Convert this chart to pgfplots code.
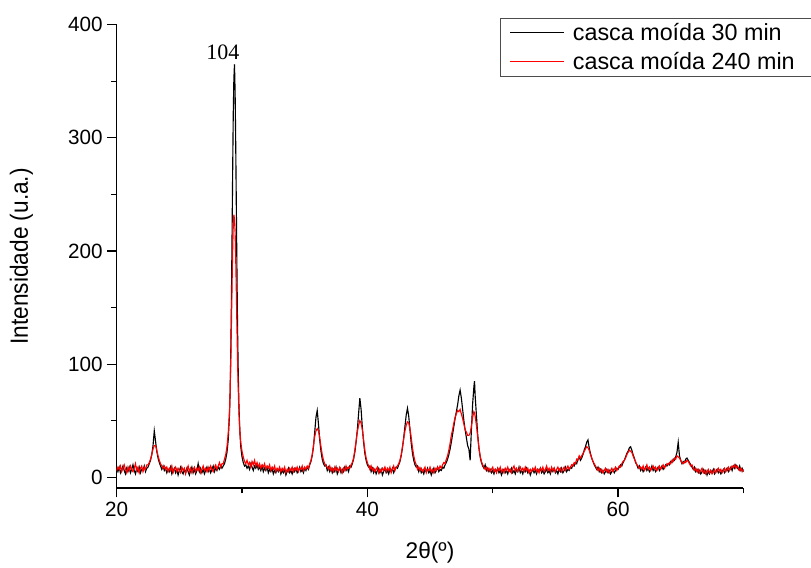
\documentclass[border=0pt]{standalone}
\usepackage{pgfplots}
\usepackage{pgfplotstable}
\usepackage{graphicx}
\pgfplotsset{compat=1.18}
\usepackage{fontspec}
\setmainfont{Liberation Sans}
\newfontfamily\timesfont{Liberation Serif}

% columns: 2theta, 30 min (black), 240 min (red)
\pgfplotstableread{
x b r
20.0 8 6
20.1 5 9
20.2 9 7
20.3 4 10
20.4 7 5
20.5 10 8
20.6 6 11
20.7 3 7
20.8 8 4
20.9 5 9
21.0 9 6
21.1 4 10
21.2 7 7
21.3 11 5
21.4 6 8
21.5 3 12
21.6 8 6
21.7 5 9
21.8 9 4
21.9 4 8
22.0 7 10
22.1 6 5
22.2 10 9
22.3 5 7
22.4 8 11
22.5 9 11
22.6 12 13
22.7 15 16
22.8 20 20
22.9 28 25
23.0 41 28
23.1 32 28
23.2 23 24
23.3 17 19
23.4 13 15
23.5 10 12
23.6 7 10
23.7 10 8
23.8 6 10
23.9 8 7
24.0 4 9
24.1 7 5
24.2 5 8
24.3 9 6
24.4 3 10
24.5 6 4
24.6 8 7
24.7 4 9
24.8 7 5
24.9 2 8
25.0 6 6
25.1 9 4
25.2 5 9
25.3 3 6
25.4 7 8
25.5 4 3
25.6 8 7
25.7 5 10
25.8 2 5
25.9 6 8
26.0 9 4
26.1 4 7
26.2 7 9
26.3 3 5
26.4 6 8
26.5 12 6
26.6 5 9
26.7 8 4
26.8 4 7
26.9 7 10
27.0 3 6
27.1 6 8
27.2 9 5
27.3 5 9
27.4 8 6
27.5 4 10
27.6 7 7
27.7 10 5
27.8 5 9
27.9 8 11
28.0 6 7
28.1 9 10
28.2 7 13
28.3 10 9
28.4 8 12
28.5 10 12
28.6 12 16
28.7 16 20
28.8 22 27
28.9 33 39
29.0 55 58
29.05 75 75
29.1 108 100
29.15 152 132
29.2 207 166
29.25 266 199
29.3 320 222
29.35 352 232
29.4 365 228
29.45 340 216
29.5 292 192
29.55 235 162
29.6 178 130
29.65 128 100
29.7 92 77
29.75 66 59
29.8 48 46
29.85 36 38
29.9 27 31
30.0 18 23
30.1 13 18
30.2 10 14
30.3 11 12
30.4 8 15
30.5 10 11
30.6 7 13
30.7 12 9
30.8 9 14
30.9 6 11
31.0 10 15
31.1 8 10
31.2 11 13
31.3 7 9
31.4 9 12
31.5 6 8
31.6 10 11
31.7 5 9
31.8 8 12
31.9 6 7
32.0 9 10
32.1 4 8
32.2 7 11
32.3 5 6
32.4 8 9
32.5 3 7
32.6 6 10
32.7 4 5
32.8 7 8
32.9 5 6
33.0 8 9
33.1 3 5
33.2 6 8
33.3 4 6
33.4 7 9
33.5 2 4
33.6 5 7
33.7 8 5
33.8 4 8
33.9 6 6
34.0 3 9
34.1 7 5
34.2 5 8
34.3 8 6
34.4 4 9
34.5 6 5
34.6 9 8
34.7 5 7
34.8 7 10
34.9 4 6
35.0 8 9
35.1 6 7
35.2 9 10
35.3 7 8
35.4 11 12
35.5 14 15
35.6 19 20
35.7 27 28
35.8 40 36
35.9 53 41
36.0 59 43
36.1 47 41
36.2 33 35
36.3 23 27
36.4 16 20
36.5 12 15
36.6 10 12
36.7 11 10
36.8 6 9
36.9 9 7
37.0 5 10
37.1 8 6
37.2 4 8
37.3 7 5
37.4 5 9
37.5 9 6
37.6 3 8
37.7 6 5
37.8 8 9
37.9 4 7
38.0 7 4
38.1 5 8
38.2 9 6
38.3 6 10
38.4 8 7
38.5 5 9
38.6 10 8
38.7 9 11
38.8 12 13
38.9 16 17
39.0 22 24
39.1 31 32
39.2 42 40
39.3 56 46
39.4 70 50
39.5 60 48
39.6 44 42
39.7 31 33
39.8 21 24
39.9 15 17
40.0 11 13
40.1 9 10
40.2 10 7
40.3 5 10
40.4 8 6
40.5 4 8
40.6 7 5
40.7 3 7
40.8 6 9
40.9 8 4
41.0 4 7
41.1 7 5
41.2 2 8
41.3 5 6
41.4 8 9
41.5 4 5
41.6 6 8
41.7 3 6
41.8 7 9
41.9 5 4
42.0 8 7
42.1 4 10
42.2 7 6
42.3 9 9
42.4 8 10
42.5 11 12
42.6 14 15
42.7 19 20
42.8 26 27
42.9 35 34
43.0 45 41
43.1 55 46
43.2 61 49
43.3 54 48
43.4 42 43
43.5 30 35
43.6 21 26
43.7 15 19
43.8 11 14
43.9 9 11
44.0 10 7
44.1 5 9
44.2 8 6
44.3 4 8
44.4 6 5
44.5 3 7
44.6 7 9
44.7 5 4
44.8 8 7
44.9 4 6
45.0 6 9
45.1 2 5
45.2 5 7
45.3 8 4
45.4 4 8
45.5 6 6
45.6 9 9
45.7 5 7
45.8 7 10
45.9 6 8
46.0 9 11
46.1 8 13
46.2 11 12
46.3 13 16
46.4 16 19
46.5 20 24
46.6 25 30
46.7 31 37
46.8 38 42
46.9 45 48
47.0 52 53
47.1 58 56
47.2 64 59
47.3 72 58
47.4 77 60
47.5 70 56
47.6 60 52
47.7 50 47
47.8 42 42
47.9 35 40
48.0 28 37
48.1 25 37
48.2 15 39
48.3 42 45
48.4 65 53
48.5 80 58
48.55 85 57
48.6 72 54
48.7 55 46
48.8 38 36
48.9 26 26
49.0 18 19
49.1 13 14
49.2 10 11
49.3 8 9
49.4 11 7
49.5 6 9
49.6 8 6
49.7 5 8
49.8 7 5
49.9 4 7
50.0 6 9
50.1 3 5
50.2 7 7
50.3 5 4
50.4 8 8
50.5 4 6
50.6 6 9
50.7 2 5
50.8 5 7
50.9 7 4
51.0 4 8
51.1 6 6
51.2 3 9
51.3 7 5
51.4 5 7
51.5 8 4
51.6 4 8
51.7 6 10
51.8 3 6
51.9 7 8
52.0 5 5
52.1 9 7
52.2 4 9
52.3 6 6
52.4 3 8
52.5 7 5
52.6 5 9
52.7 8 6
52.8 4 8
52.9 6 4
53.0 2 7
53.1 5 5
53.2 7 8
53.3 4 6
53.4 6 9
53.5 3 5
53.6 7 7
53.7 5 4
53.8 8 8
53.9 4 6
54.0 6 9
54.1 3 5
54.2 5 7
54.3 7 10
54.4 4 6
54.5 6 8
54.6 3 5
54.7 7 9
54.8 5 6
54.9 8 8
55.0 4 5
55.1 6 7
55.2 3 9
55.3 7 6
55.4 5 8
55.5 8 5
55.6 4 7
55.7 6 9
55.8 9 6
55.9 5 8
56.0 7 10
56.1 6 7
56.2 9 9
56.3 8 11
56.4 11 10
56.5 10 13
56.6 13 12
56.7 12 16
56.8 16 15
56.9 18 19
57.0 15 17
57.1 17 19
57.2 20 21
57.3 24 23
57.4 27 25
57.5 31 27
57.6 33 26
57.7 26 24
57.8 21 20
57.9 17 17
58.0 14 14
58.1 11 12
58.2 9 10
58.3 7 8
58.4 9 6
58.5 5 8
58.6 7 5
58.7 4 7
58.8 6 4
58.9 3 6
59.0 5 8
59.1 7 5
59.2 4 7
59.3 6 4
59.4 3 6
59.5 5 8
59.6 7 5
59.7 4 7
59.8 6 9
59.9 8 6
60.0 7 8
60.1 9 10
60.2 11 9
60.3 10 12
60.4 13 14
60.5 15 15
60.6 18 17
60.7 21 20
60.8 23 22
60.9 26 24
61.0 27 23
61.1 24 22
61.2 20 19
61.3 17 16
61.4 13 14
61.5 11 11
61.6 8 10
61.7 10 8
61.8 6 9
61.9 8 7
62.0 5 10
62.1 7 6
62.2 9 8
62.3 6 11
62.4 8 7
62.5 5 9
62.6 7 6
62.7 10 8
62.8 6 10
62.9 8 7
63.0 5 9
63.1 7 6
63.2 9 8
63.3 6 10
63.4 8 7
63.5 10 9
63.6 7 11
63.7 9 8
63.8 11 10
63.9 10 12
64.0 12 11
64.1 11 13
64.2 14 12
64.3 13 15
64.4 16 14
64.5 15 17
64.6 18 16
64.7 22 19
64.8 31 18
64.9 19 17
65.0 15 15
65.1 12 13
65.2 14 12
65.3 13 14
65.4 16 13
65.5 17 15
65.6 15 14
65.7 13 12
65.8 11 10
65.9 9 11
66.0 7 8
66.1 9 6
66.2 5 8
66.3 7 5
66.4 4 7
66.5 6 4
66.6 3 6
66.7 5 8
66.8 7 4
66.9 4 6
67.0 6 3
67.1 2 5
67.2 5 7
67.3 3 4
67.4 6 6
67.5 4 3
67.6 7 5
67.7 3 7
67.8 5 4
67.9 7 6
68.0 4 8
68.1 6 5
68.2 3 7
68.3 5 4
68.4 7 6
68.5 4 8
68.6 6 5
68.7 8 7
68.8 5 9
68.9 7 6
69.0 9 8
69.1 6 10
69.2 10 9
69.3 8 11
69.4 11 8
69.5 9 10
69.6 7 8
69.7 10 6
69.8 6 8
69.9 8 5
70.0 5 7
}\xrd

\begin{document}
\begin{tikzpicture}
\begin{axis}[
    scale only axis,
    width=470pt, height=347.5pt,
    xmin=20, xmax=70,
    ymin=-9.5, ymax=400,
    axis lines=left,
    axis line style={-, line width=0.9pt},
    xtick={20,40,60},
    minor xtick={30,50,70},
    ytick={0,100,200,300,400},
    minor ytick={50,150,250,350},
    tick align=outside,
    tick pos=left,
    major tick length=7pt,
    minor tick length=4pt,
    every tick/.style={black, line width=0.9pt},
    /pgf/number format/assume math mode=true,
    ticklabel style={font=\fontsize{15.5}{17}\selectfont},
    xlabel={2θ(º)},
    ylabel={\scalebox{1}[1.1]{Intensidade (u.a.)}},
    every axis x label/.style={at={(axis description cs:0.5,-0.14)}, anchor=center, font=\fontsize{17}{20}\selectfont},
    every axis y label/.style={at={(axis description cs:-0.152,0.5)}, anchor=center, rotate=90, font=\fontsize{17}{20}\selectfont},
    clip=false,
    legend cell align=left,
    legend style={at={(axis description cs:0.6118,1.0145)}, anchor=north west,
        draw=black!70, line width=0.6pt, font=\fontsize{17.5}{20}\selectfont,
        inner xsep=7pt, inner ysep=1.5pt, row sep=3.5pt, column sep=4.5pt},
]
\addplot[black, line width=0.85pt,
    legend image code/.code={\draw[black, line width=0.6pt] (0pt,0pt) -- (40pt,0pt);}]
    table[x=x, y=b]{\xrd};
\addlegendentry{casca moída 30 min}
\addplot[red, line width=0.85pt,
    legend image code/.code={\draw[red, line width=0.8pt] (0pt,0pt) -- (40pt,0pt);}]
    table[x=x, y=r]{\xrd};
\addlegendentry{casca moída 240 min\rule{12pt}{0pt}}
\node[font=\timesfont\fontsize{16.5}{18}\selectfont] at (axis cs:28.48,376) {104};
\end{axis}
\pgfresetboundingbox
\path[use as bounding box] (-87.5pt,-59.25pt) rectangle (520.7pt,366pt);
\end{tikzpicture}
\end{document}
